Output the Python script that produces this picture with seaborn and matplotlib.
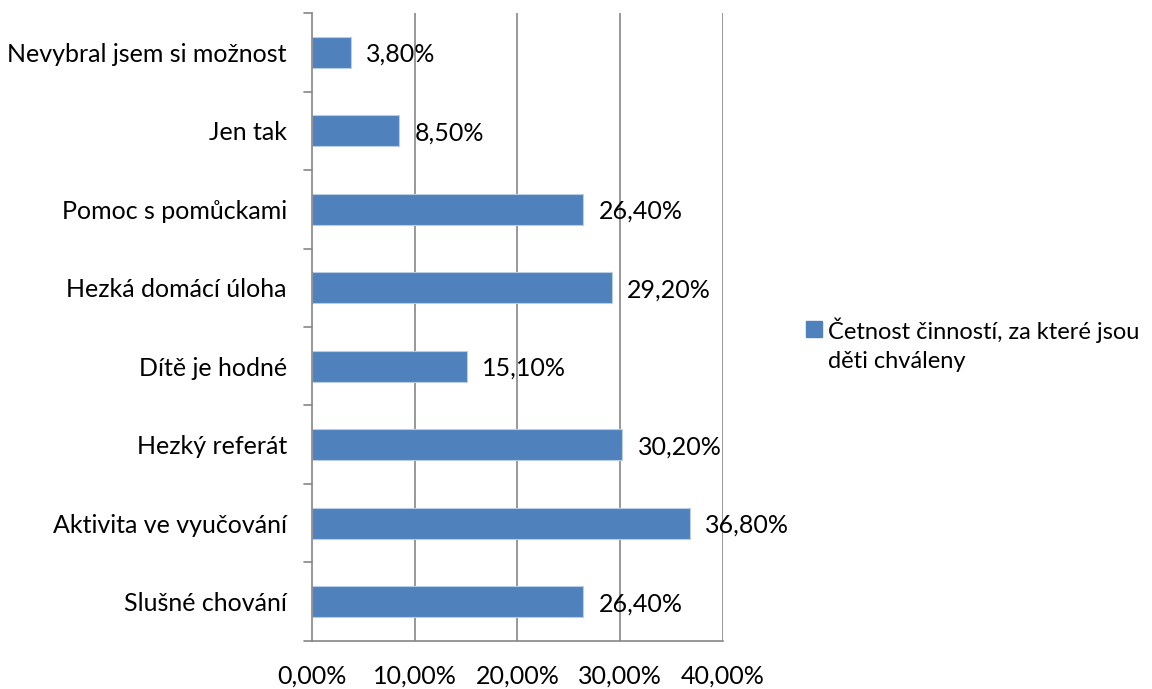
import matplotlib
matplotlib.use("Agg")
import matplotlib.pyplot as plt
import matplotlib.patches as mpatches
from matplotlib.legend_handler import HandlerPatch
import seaborn as sns
import pandas as pd

categories = [
    "Nevybral jsem si možnost",
    "Jen tak",
    "Pomoc s pomůckami",
    "Hezká domácí úloha",
    "Dítě je hodné",
    "Hezký referát",
    "Aktivita ve vyučování",
    "Slušné chování",
]
values = [3.8, 8.5, 26.4, 29.2, 15.1, 30.2, 36.8, 26.4]
x_ticks = [0, 10, 20, 30, 40]
series_name = "Četnost činností, za které jsou\nděti chváleny"

sns.set_theme(style="white")
plt.rcParams["font.family"] = ["Lato", "DejaVu Sans"]
plt.rcParams["text.color"] = "black"
plt.rcParams["xtick.labelcolor"] = "black"
plt.rcParams["ytick.labelcolor"] = "black"

bar_color = "#4F81BD"
grid_color = "#868686"
fs = 18

df = pd.DataFrame({"category": categories, "value": values})

fig = plt.figure(figsize=(11.52, 6.89), dpi=100)
ax = fig.add_axes([0.2708, 0.0697, 0.6276 - 0.2708, 0.9811 - 0.0697])

sns.barplot(data=df, y="category", x="value", orient="h", color=bar_color,
            saturation=1, width=0.4, ax=ax, edgecolor="#B9CDE5", linewidth=0.8)

ax.set_xlim(0, 40)
ax.set_ylim(len(categories) - 0.5, -0.5)
ax.set_xticks(x_ticks)
ax.set_xticklabels([f"{t:.2f}%".replace(".", ",") for t in x_ticks], fontsize=fs)
ax.set_xlabel("")
ax.set_ylabel("")

# category boundaries get tick marks; labels sit at the bar centres
ax.set_yticks([i for i in range(len(categories))])
ax.set_yticklabels(categories, fontsize=fs)
ax.tick_params(axis="y", length=0, pad=18)
for b in [i - 0.5 for i in range(len(categories) + 1)]:
    ax.plot([-0.02, 0], [b, b], color=grid_color, lw=1.2, transform=ax.get_yaxis_transform(),
            clip_on=False)
ax.tick_params(axis="x", length=7, width=1.2, color=grid_color, pad=10, direction="out")

for t in x_ticks[1:]:
    ax.axvline(t, color=grid_color, lw=1.2, zorder=0)

for s in ["top", "right"]:
    ax.spines[s].set_visible(False)
for s in ["left", "bottom"]:
    ax.spines[s].set_color(grid_color)
    ax.spines[s].set_linewidth(1.2)

for i, v in enumerate(values):
    ax.annotate(f"{v:.2f}%".replace(".", ","), xy=(v, i), xytext=(11, -1.5),
                textcoords="offset points", va="center", ha="left", fontsize=fs)


# legend swatch sits beside the first line of the wrapped label
def top_swatch(legend, orig_handle, xdescent, ydescent, width, height, fontsize):
    return mpatches.Rectangle((-xdescent, -ydescent + 11.5), width, height)


handle = mpatches.Patch(color=bar_color, label=series_name)
leg = fig.legend(handles=[handle], loc="center left", bbox_to_anchor=(0.700, 0.50),
                 frameon=False, fontsize=17, handlelength=0.65, handleheight=0.65,
                 handletextpad=0.25, borderaxespad=0, borderpad=0,
                 handler_map={mpatches.Patch: HandlerPatch(patch_func=top_swatch)})
for txt in leg.get_texts():
    txt.set_linespacing(1.45)

fig.savefig("out.png", dpi=100)
